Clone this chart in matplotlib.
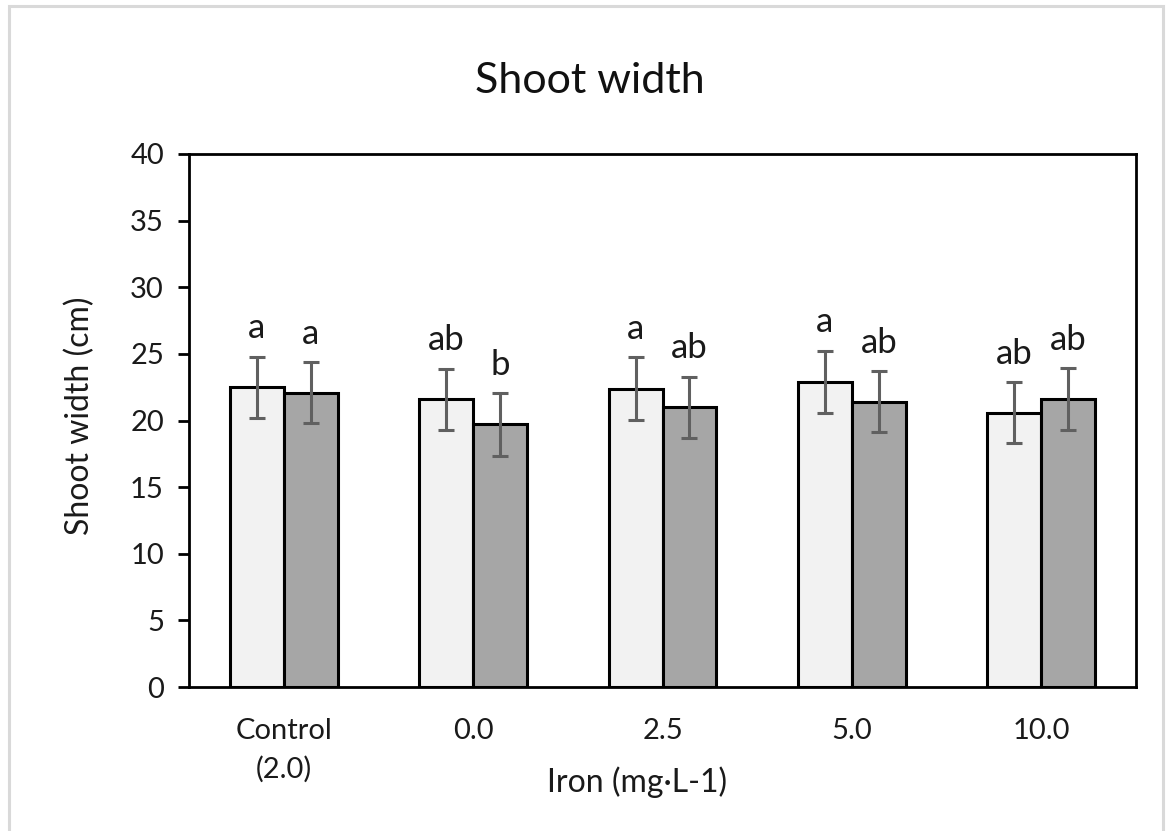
import matplotlib
matplotlib.use("Agg")
import matplotlib.pyplot as plt
import numpy as np
from matplotlib.patches import Rectangle

plt.rcParams['font.family'] = ['Lato', 'DejaVu Sans']

categories = ["Control\n(2.0)", "0.0", "2.5", "5.0", "10.0"]
series1 = [22.5, 21.6, 22.4, 22.9, 20.6]
series2 = [22.1, 19.7, 21.0, 21.4, 21.6]
err1 = [2.3, 2.3, 2.35, 2.35, 2.3]
err2 = [2.3, 2.35, 2.3, 2.3, 2.35]
letters1 = ["a", "ab", "a", "a", "ab"]
letters2 = ["a", "b", "ab", "ab", "ab"]
yticks = [0, 5, 10, 15, 20, 25, 30, 35, 40]

txt = '#1a1a1a'
fig = plt.figure(figsize=(11.68, 8.31), dpi=100)
fig.patches.append(Rectangle((9/1168, -0.01), (1163-9)/1168, 1 - 6/831 + 0.01,
                             transform=fig.transFigure, fill=False,
                             edgecolor='#d9d9d9', linewidth=2.2))
ax = fig.add_axes([189/1168, 1-687/831, (1136-189)/1168, (687-154)/831])

x = np.arange(len(categories))
w = 0.285
ekw = dict(ecolor='#606060', elinewidth=2.2, capsize=5.8, capthick=2.2)
ax.bar(x - w/2, series1, w, color='#f2f2f2', edgecolor='black', linewidth=2.2,
       yerr=err1, error_kw=ekw, zorder=2)
ax.bar(x + w/2, series2, w, color='#a6a6a6', edgecolor='black', linewidth=2.2,
       yerr=err2, error_kw=ekw, zorder=2)

for i in range(len(categories)):
    ax.annotate(letters1[i], (x[i] - w/2, series1[i] + err1[i]), xytext=(0, 13),
                textcoords='offset points', ha='center', va='baseline',
                fontsize=25, color=txt)
    ax.annotate(letters2[i], (x[i] + w/2, series2[i] + err2[i]), xytext=(0, 13),
                textcoords='offset points', ha='center', va='baseline',
                fontsize=25, color=txt)

ax.set_xlim(-0.5, len(categories) - 0.5)
ax.set_ylim(0, 40)
ax.set_yticks(yticks)
ax.set_xticks(x)
ax.set_xticklabels(categories, fontsize=21, color=txt, linespacing=1.55)
ax.tick_params(axis='x', length=0, pad=22)
ax.tick_params(axis='y', length=8, width=2, labelsize=21, labelcolor=txt, pad=10)
for s in ax.spines.values():
    s.set_linewidth(2)
fig.text(80/1168, 1-416/831, "Shoot width (cm)", rotation=90, ha='center', va='center',
         fontsize=23, color=txt)
fig.text(637/1168, 1-792/831, "Iron (mg·L-1)", ha='center', va='baseline',
         fontsize=23, color=txt)
fig.text(590/1168, 1-81/831, "Shoot width", ha='center', va='center', fontsize=31, color='#111111')

fig.savefig("out.png", dpi=100)
